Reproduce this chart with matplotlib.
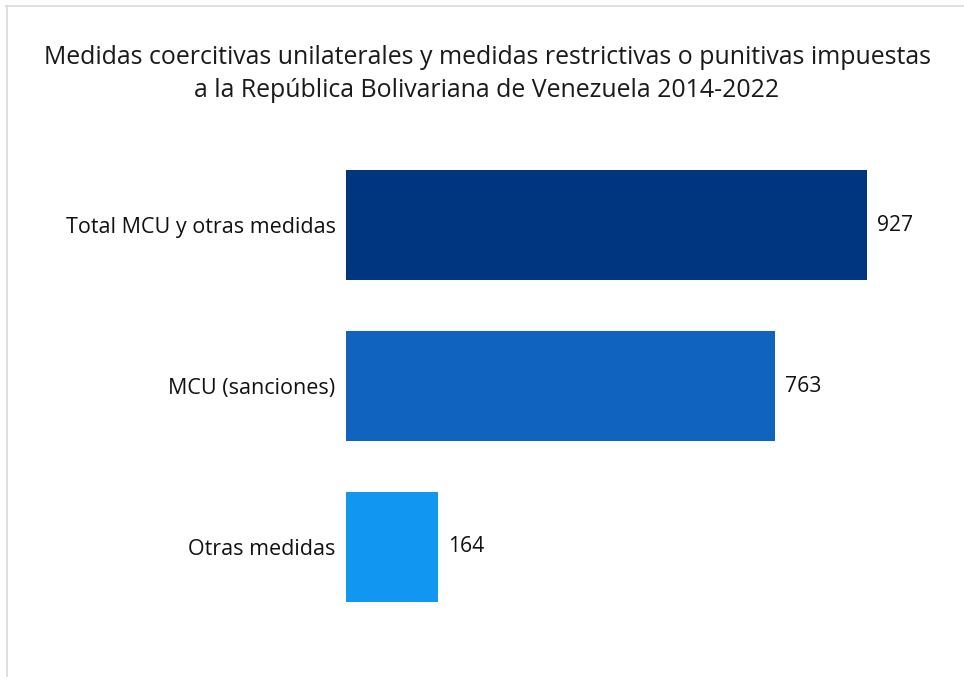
import matplotlib
matplotlib.use("Agg")
import matplotlib.pyplot as plt
from matplotlib.lines import Line2D

categories = ["Total MCU y otras medidas", "MCU (sanciones)", "Otras medidas"]
values = [927, 763, 164]
colors = ["#00367F", "#1064BF", "#1197F2"]
title = ("Medidas coercitivas unilaterales y medidas restrictivas o punitivas impuestas\n"
         "a la República Bolivariana de Venezuela 2014-2022")

plt.rcParams["font.family"] = ["Open Sans", "DejaVu Sans"]

W, H = 964, 677
fig = plt.figure(figsize=(W / 100, H / 100), dpi=100, facecolor="white")

# bars: left edge at x=346 px, 0.562 px per unit
xmax = 1050
px_per_unit = 521 / 927
ax = fig.add_axes([346 / W, 1 - 627.5 / H, xmax * px_per_unit / W, 483 / H])
y = list(range(len(categories)))
ax.barh(y, values, height=0.683, color=colors)
ax.set_xlim(0, xmax)
ax.set_ylim(len(categories) - 0.5, -0.5)
for yi, v in zip(y, values):
    ax.text(v + 10 / px_per_unit, yi, str(v), va="center", ha="left",
            fontsize=15.2, color="#111111")
ax.set_yticks(y)
ax.set_yticklabels(categories, fontsize=15.5, color="#111111")
ax.tick_params(axis="y", length=0, pad=7.5)
ax.set_xticks([])
for s in ax.spines.values():
    s.set_visible(False)

fig.text(487 / W, 1 - 74 / H, title, ha="center", va="center",
         fontsize=17.9, color="#1a1a1a", linespacing=1.47)

# light frame (top and left edges)
fig.add_artist(Line2D([6 / W, 1], [1 - 5.5 / H, 1 - 5.5 / H], color="#D9D9D9", lw=1.2))
fig.add_artist(Line2D([6.5 / W, 6.5 / W], [0, 1 - 5.5 / H], color="#D9D9D9", lw=1.2))

fig.savefig("out.png", dpi=100, facecolor="white")
